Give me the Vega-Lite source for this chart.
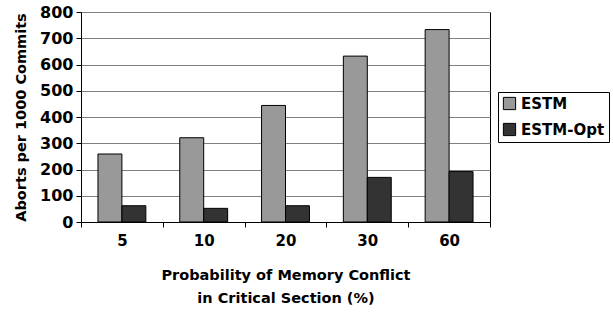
{
  "$schema": "https://vega.github.io/schema/vega-lite/v6.json",
  "width": 409,
  "height": 210,
  "autosize": {"type": "none"},
  "padding": {"left": 81, "top": 12, "right": 123, "bottom": 91},
  "background": "white",
  "config": {
    "font": "DejaVu Sans",
    "view": {"stroke": "black", "strokeWidth": 1}
  },
  "data": {
    "values": [
      {"prob": "5", "series": "ESTM", "aborts": 259},
      {"prob": "5", "series": "ESTM-Opt", "aborts": 62},
      {"prob": "10", "series": "ESTM", "aborts": 321},
      {"prob": "10", "series": "ESTM-Opt", "aborts": 52},
      {"prob": "20", "series": "ESTM", "aborts": 444},
      {"prob": "20", "series": "ESTM-Opt", "aborts": 62},
      {"prob": "30", "series": "ESTM", "aborts": 632},
      {"prob": "30", "series": "ESTM-Opt", "aborts": 170},
      {"prob": "60", "series": "ESTM", "aborts": 733},
      {"prob": "60", "series": "ESTM-Opt", "aborts": 192}
    ]
  },
  "mark": {"type": "bar", "stroke": "black", "strokeWidth": 1},
  "encoding": {
    "x": {
      "field": "prob",
      "type": "ordinal",
      "sort": ["5", "10", "20", "30", "60"],
      "scale": {"paddingInner": 0, "paddingOuter": 0},
      "axis": {
        "title": ["Probability of Memory Conflict", "in Critical Section (%)"],
        "titleFont": "DejaVu Sans",
        "titleFontSize": 14.5,
        "titleFontWeight": "bold",
        "titleColor": "black",
        "titlePadding": 20,
        "titleLineHeight": 23,
        "labelAngle": 0,
        "labelFont": "DejaVu Sans",
        "labelFontSize": 15,
        "labelFontWeight": "bold",
        "labelColor": "black",
        "labelPadding": 6,
        "tickBand": "extent",
        "tickSize": 5,
        "tickColor": "black",
        "domainColor": "black",
        "grid": false
      }
    },
    "xOffset": {"field": "series", "type": "nominal", "scale": {"paddingInner": 0, "paddingOuter": 0.708}},
    "y": {
      "field": "aborts",
      "type": "quantitative",
      "scale": {"domain": [0, 800]},
      "axis": {
        "title": "Aborts per 1000 Commits",
        "titleFont": "DejaVu Sans",
        "titleFontSize": 14.5,
        "titleFontWeight": "bold",
        "titleColor": "black",
        "titlePadding": 11,
        "values": [0, 100, 200, 300, 400, 500, 600, 700, 800],
        "labelFont": "DejaVu Sans",
        "labelFontSize": 16,
        "labelFontWeight": "bold",
        "labelColor": "black",
        "labelPadding": 3,
        "tickSize": 5,
        "tickColor": "black",
        "domainColor": "black",
        "gridColor": "#808080",
        "gridOpacity": 1
      }
    },
    "color": {
      "field": "series",
      "type": "nominal",
      "scale": {"domain": ["ESTM", "ESTM-Opt"], "range": ["#999999", "#333333"]},
      "legend": {
        "title": null,
        "orient": "none",
        "legendX": 417,
        "legendY": 80,
        "symbolType": "square",
        "symbolSize": 150,
        "symbolStrokeColor": "black",
        "symbolStrokeWidth": 1,
        "symbolOpacity": 1,
        "labelFont": "DejaVu Sans",
        "labelFontSize": 15,
        "labelFontWeight": "bold",
        "labelColor": "black",
        "labelOffset": 4,
        "rowPadding": 9,
        "strokeColor": "black",
        "fillColor": "white",
        "padding": 4
      }
    }
  }
}
